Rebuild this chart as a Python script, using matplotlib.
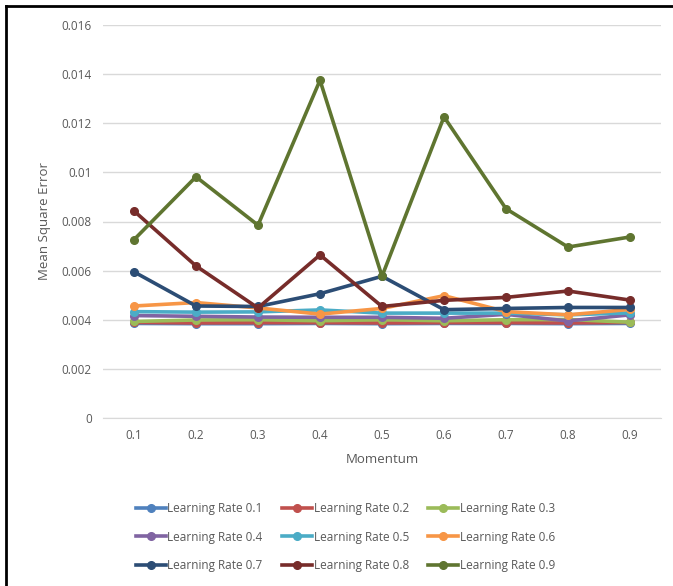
import matplotlib.pyplot as plt
from matplotlib.lines import Line2D

momentum = ["0.1", "0.2", "0.3", "0.4", "0.5", "0.6", "0.7", "0.8", "0.9"]

lr_01 = [0.00385, 0.00384, 0.00384, 0.00385, 0.00384, 0.00385, 0.00385, 0.00384, 0.00385]
lr_02 = [0.00389, 0.00387, 0.00388, 0.00388, 0.00387, 0.00388, 0.00388, 0.00387, 0.00389]
lr_03 = [0.00393, 0.00399, 0.00400, 0.00396, 0.00400, 0.00396, 0.00400, 0.00401, 0.00390]
lr_04 = [0.00417, 0.00414, 0.00411, 0.00410, 0.00410, 0.00406, 0.00422, 0.00395, 0.00420]
lr_05 = [0.00433, 0.00431, 0.00432, 0.00440, 0.00427, 0.00427, 0.00427, 0.00420, 0.00428]
lr_06 = [0.00456, 0.00470, 0.00448, 0.00423, 0.00446, 0.00498, 0.00433, 0.00420, 0.00442]
lr_07 = [0.00595, 0.00456, 0.00454, 0.00506, 0.00577, 0.00441, 0.00446, 0.00450, 0.00450]
lr_08 = [0.00843, 0.00619, 0.00448, 0.00664, 0.00454, 0.00479, 0.00491, 0.00517, 0.00480]
lr_09 = [0.00726, 0.00982, 0.00785, 0.01375, 0.00577, 0.01226, 0.00852, 0.00696, 0.00737]

series = [lr_01, lr_02, lr_03, lr_04, lr_05, lr_06, lr_07, lr_08, lr_09]
labels = ["Learning Rate 0.%d" % i for i in range(1, 10)]
colors = ["#4F81BD", "#C0504D", "#9BBB59", "#8064A2", "#4BACC6",
          "#F79646", "#2C4D75", "#772C2A", "#5F7530"]

plt.rcParams['font.family'] = ['Open Sans', 'DejaVu Sans']
text_color = "#595959"

fig = plt.figure(figsize=(6.73, 5.86), dpi=100)
ax = fig.add_axes([103 / 673, 1 - 418 / 586, 558 / 673, 393 / 586])

x = list(range(len(momentum)))
for vals, lab, col in zip(series, labels, colors):
    ax.plot(x, vals, color=col, lw=2.6, marker="o", ms=5.5, label=lab)

ax.set_xlim(-0.5, len(momentum) - 0.5)
ax.set_ylim(0, 0.016)
ax.set_yticks([i * 0.002 for i in range(9)])
ax.set_yticklabels(["0", "0.002", "0.004", "0.006", "0.008",
                    "0.01", "0.012", "0.014", "0.016"])
ax.set_xticks(x)
ax.set_xticklabels(momentum)
ax.grid(axis="y", color="#D9D9D9", lw=1)
ax.set_axisbelow(True)
for side in ["top", "right", "left"]:
    ax.spines[side].set_visible(False)
ax.spines["bottom"].set_color("#D9D9D9")
ax.tick_params(length=0, colors=text_color, labelsize=8.5, pad=8)
ax.set_xlabel("Momentum", color=text_color, fontsize=9.5, labelpad=8)
ax.set_ylabel("Mean Square Error", color=text_color, fontsize=9.5, labelpad=8)

# legend is filled row by row in the source, matplotlib fills by column
handles = [Line2D([], [], color=c, lw=2.6, marker="o", ms=5.5) for c in colors]
order = [0, 3, 6, 1, 4, 7, 2, 5, 8]
fig.legend([handles[i] for i in order], [labels[i] for i in order],
           ncol=3, loc="center", bbox_to_anchor=(0.513, 0.0836),
           frameon=False, fontsize=8.5, labelcolor=text_color,
           handlelength=2.6, handletextpad=0.1, columnspacing=1.6,
           labelspacing=1.3)

# black frame on top and left edges, as in the source screenshot
fig.add_artist(Line2D([6 / 673, 6 / 673], [0, 1 - 6 / 586], color="black",
                      lw=2, transform=fig.transFigure))
fig.add_artist(Line2D([6 / 673, 1], [1 - 6 / 586, 1 - 6 / 586], color="black",
                      lw=2, transform=fig.transFigure))

fig.savefig("out.png", dpi=100)
